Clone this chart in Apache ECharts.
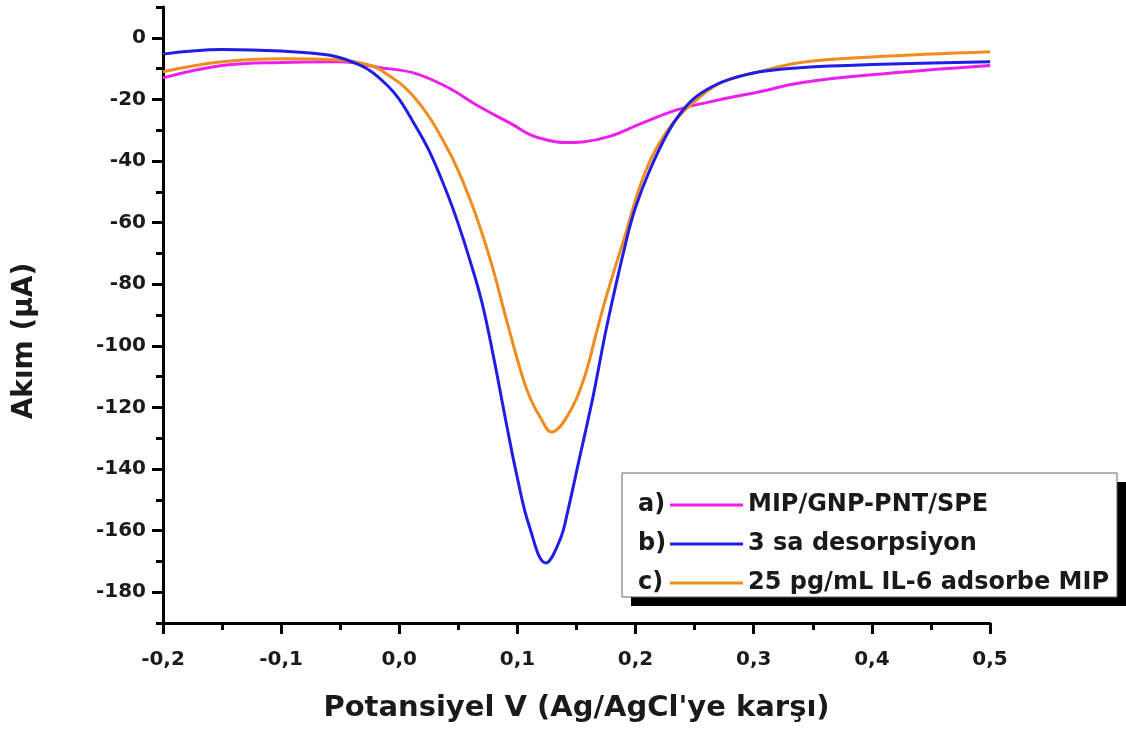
<!DOCTYPE html>
<html>
<head>
<meta charset="utf-8">
<script src="https://cdn.jsdelivr.net/npm/echarts@6/dist/echarts.min.js"></script>
<style>
  html, body { margin: 0; padding: 0; background: #fff; }
  #chart { width: 1126px; height: 735px; }
</style>
</head>
<body>
<div id="chart"></div>
<script>
// a) MIP/GNP-PNT/SPE
var potA = [-0.2, -0.15, -0.1, -0.05, -0.016, 0.012, 0.04, 0.068, 0.096, 0.111, 0.125, 0.14, 0.155, 0.178, 0.206, 0.235, 0.263, 0.305, 0.34, 0.4, 0.5];
var curA = [-13, -9, -8, -7.8, -9.7, -11.4, -15.9, -22.4, -28.2, -31.5, -33.2, -34, -33.8, -32, -27.6, -23.4, -20.8, -17.5, -14.6, -12, -9];

// b) 3 sa desorpsiyon
var potB = [-0.2, -0.15, -0.1, -0.06, -0.04, -0.025, -0.01, 0.0, 0.012, 0.025, 0.04, 0.05, 0.06, 0.07, 0.08, 0.09, 0.1, 0.11, 0.124, 0.136, 0.143, 0.1505, 0.164, 0.176, 0.193, 0.2, 0.212, 0.227, 0.238, 0.25, 0.265, 0.28, 0.305, 0.339, 0.4, 0.5];
var curB = [-5.3, -3.8, -4.3, -5.6, -7.8, -10.6, -15.5, -20, -27.5, -36.5, -50, -60.5, -72.5, -86, -104, -124, -143, -158.5, -170.5, -163, -153, -140, -116.5, -93, -64.5, -55, -43, -31, -24.5, -19.5, -15.8, -13.4, -11, -9.7, -8.7, -7.8];

// c) 25 pg/mL IL-6 adsorbe MIP
var potC = [-0.2, -0.15, -0.1, -0.05, -0.03, -0.016, 0.012, 0.04, 0.06, 0.077, 0.091, 0.105, 0.112, 0.119, 0.129, 0.142, 0.156, 0.1675, 0.176, 0.19, 0.208, 0.229, 0.249, 0.272, 0.305, 0.34, 0.4, 0.5];
var curC = [-11, -7.8, -6.8, -7.2, -8.4, -10.4, -19, -35.4, -52.6, -72, -92, -111, -118, -123, -128, -123, -111, -94.8, -83, -65.6, -43.8, -29, -21, -14.6, -11, -8, -6.2, -4.5];

var seriesNames = ['MIP/GNP-PNT/SPE', '3 sa desorpsiyon', '25 pg/mL IL-6 adsorbe MIP'];
var seriesColors = ['#EE1EEE', '#1E1EE6', '#F08C1E'];
var legendTags = ['a)', 'b)', 'c)'];

var yMajor = [-180, -160, -140, -120, -100, -80, -60, -40, -20, 0];
var yMinor = [-190, -170, -150, -130, -110, -90, -70, -50, -30, -10, 10];

var boldFont = 'DejaVu Sans';

function pairs(xs, ys) {
    return xs.map(function (x, i) { return [x, ys[i]]; });
}

function makeSeries(idx, xs, ys) {
    return {
        type: 'line',
        name: seriesNames[idx],
        data: pairs(xs, ys),
        smooth: 0.4,
        symbol: 'none',
        showSymbol: false,
        lineStyle: { color: seriesColors[idx], width: 3 },
        itemStyle: { color: seriesColors[idx] }
    };
}

var chart = echarts.init(document.getElementById('chart'));

var option = {
    animation: false,
    backgroundColor: '#fff',
    grid: { left: 163, right: 136, top: 7, bottom: 112 },
    xAxis: {
        type: 'value',
        min: -0.2,
        max: 0.5,
        interval: 0.1,
        name: "Potansiyel V (Ag/AgCl'ye karşı)",
        nameLocation: 'middle',
        nameGap: 71,
        nameTextStyle: { fontFamily: boldFont, fontWeight: 'bold', fontSize: 29, color: '#1a1a1a' },
        axisLine: { onZero: false, lineStyle: { color: '#000', width: 3 } },
        axisTick: { length: 11, lineStyle: { color: '#000', width: 3 } },
        minorTick: { show: true, splitNumber: 2, length: 7, lineStyle: { color: '#000', width: 3 } },
        splitLine: { show: false },
        minorSplitLine: { show: false },
        axisLabel: {
            margin: 27,
            fontFamily: boldFont,
            fontWeight: 'bold',
            fontSize: 20,
            color: '#1a1a1a',
            formatter: function (v) {
                return (Math.round(v * 10) / 10).toFixed(1).replace('.', ',');
            }
        }
    },
    yAxis: [
        {
            type: 'value',
            min: -190,
            max: 10,
            axisLine: { show: true, onZero: false, lineStyle: { color: '#000', width: 3 } },
            axisTick: { show: true, customValues: yMajor, length: 11, lineStyle: { color: '#000', width: 3 } },
            axisLabel: {
                customValues: yMajor,
                margin: 17,
                fontFamily: boldFont,
                fontWeight: 'bold',
                fontSize: 20,
                color: '#1a1a1a'
            },
            splitLine: { show: false }
        },
        {
            type: 'value',
            min: -190,
            max: 10,
            position: 'left',
            axisLine: { show: false, onZero: false },
            axisTick: { show: true, customValues: yMinor, length: 7, lineStyle: { color: '#000', width: 3 } },
            axisLabel: { show: false },
            splitLine: { show: false }
        }
    ],
    legend: {
        orient: 'vertical',
        left: 622,
        top: 473,
        z: 5,
        data: seriesNames,
        icon: 'rect',
        padding: [20, 8, 2, 48],
        itemGap: 15,
        itemWidth: 73,
        itemHeight: 3,
        backgroundColor: '#fff',
        borderColor: '#666',
        borderWidth: 1,
        borderRadius: 0,
        selectedMode: false,
        textStyle: { fontFamily: boldFont, fontWeight: 'bold', fontSize: 24, lineHeight: 24, color: '#1a1a1a' }
    },
    graphic: [
        {
            // drop shadow behind the legend box
            type: 'rect',
            z: 1,
            shape: { x: 631, y: 482, width: 495, height: 124 },
            style: { fill: '#000' }
        },
        {
            type: 'text',
            x: 25,
            y: 341,
            rotation: Math.PI / 2,
            style: {
                text: 'Akım (μA)',
                fontFamily: boldFont,
                fontWeight: 'bold',
                fontSize: 28,
                fill: '#1a1a1a',
                textAlign: 'center',
                textVerticalAlign: 'middle'
            }
        }
    ].concat(legendTags.map(function (t, i) {
        return {
            type: 'text',
            z: 100,
            x: 638,
            y: 505 + i * 39,
            style: {
                text: t,
                fontFamily: boldFont,
                fontWeight: 'bold',
                fontSize: 24,
                fill: '#1a1a1a',
                textAlign: 'left',
                textVerticalAlign: 'middle'
            }
        };
    })),
    series: [
        makeSeries(0, potA, curA),
        makeSeries(2, potC, curC),
        makeSeries(1, potB, curB)
    ]
};

chart.setOption(option);
</script>
</body>
</html>
